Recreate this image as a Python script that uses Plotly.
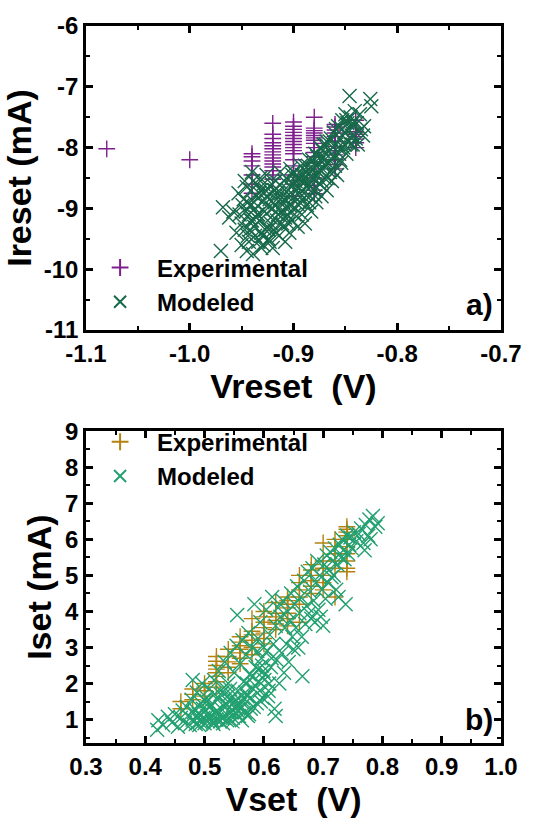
import plotly.graph_objects as go

# ---------------- Data: panel a) (reset) ----------------
exp_reset_v = [-1.08, -1.00,
               -0.94, -0.94, -0.94, -0.94, -0.94, -0.94, -0.94,
               -0.92, -0.92, -0.92, -0.92, -0.92, -0.92, -0.92, -0.92, -0.92, -0.92, -0.92, -0.92, -0.92, -0.92, -0.92,
               -0.90, -0.90, -0.90, -0.90, -0.90, -0.90, -0.90, -0.90, -0.90, -0.90, -0.90, -0.90, -0.90, -0.90, -0.90, -0.90,
               -0.88, -0.88, -0.88, -0.88, -0.88, -0.88, -0.88, -0.88, -0.88, -0.88, -0.88, -0.88, -0.88, -0.88, -0.88, -0.88, -0.88,
               -0.86, -0.86, -0.86, -0.86, -0.86, -0.86, -0.86, -0.86, -0.86, -0.86, -0.86, -0.86,
               -0.84, -0.84, -0.84, -0.84, -0.84, -0.84, -0.84, -0.84]
exp_reset_i = [-8.02, -8.20,
               -8.10, -8.15, -8.22, -8.30, -8.45, -8.60, -8.75,
               -7.60, -7.78, -7.85, -7.92, -7.97, -8.02, -8.07, -8.12, -8.17, -8.22, -8.27, -8.32, -8.38, -8.45, -8.52,
               -7.58, -7.65, -7.70, -7.75, -7.80, -7.85, -7.90, -7.95, -8.00, -8.05, -8.10, -8.20, -8.30, -8.45, -8.60, -8.80,
               -7.50, -7.68, -7.72, -7.76, -7.80, -7.84, -7.88, -7.93, -8.00, -8.08, -8.15, -8.25, -8.35, -8.50, -8.62, -8.70, -8.76,
               -7.62, -7.66, -7.71, -7.76, -7.82, -7.90, -7.98, -8.05, -8.12, -8.20, -8.28, -8.35,
               -7.55, -7.68, -7.74, -7.78, -7.82, -7.86, -7.92, -8.00]

mod_reset_v = [-0.970, -0.968, -0.962, -0.958, -0.955, -0.953, -0.950, -0.950, -0.948, -0.947,
               -0.945, -0.944, -0.943, -0.942, -0.941, -0.940, -0.939, -0.938, -0.937, -0.936,
               -0.935, -0.934, -0.933, -0.932, -0.931, -0.930, -0.929, -0.928, -0.927, -0.926,
               -0.925, -0.924, -0.923, -0.922, -0.921, -0.920, -0.919, -0.918, -0.917, -0.916,
               -0.915, -0.914, -0.913, -0.912, -0.911, -0.910, -0.909, -0.908, -0.907, -0.906,
               -0.905, -0.904, -0.903, -0.902, -0.901, -0.900, -0.899, -0.898, -0.897, -0.896,
               -0.895, -0.894, -0.893, -0.892, -0.891, -0.890, -0.889, -0.888, -0.887, -0.886,
               -0.885, -0.884, -0.883, -0.882, -0.881, -0.880, -0.879, -0.878, -0.877, -0.876,
               -0.875, -0.874, -0.873, -0.872, -0.871, -0.870, -0.869, -0.868, -0.867, -0.866,
               -0.865, -0.864, -0.863, -0.862, -0.861, -0.860, -0.859, -0.858, -0.857, -0.856,
               -0.855, -0.854, -0.853, -0.852, -0.851, -0.850, -0.849, -0.848, -0.847, -0.846,
               -0.845, -0.844, -0.843, -0.842, -0.840, -0.838, -0.835, -0.832, -0.826, -0.825,
               -0.946, -0.942, -0.938, -0.934, -0.930, -0.926, -0.922, -0.918, -0.914, -0.910,
               -0.906, -0.902, -0.898, -0.894, -0.890, -0.886, -0.882, -0.878, -0.874, -0.870,
               -0.944, -0.936, -0.928, -0.920, -0.912, -0.904, -0.896, -0.888, -0.880, -0.872,
               -0.940, -0.932, -0.924, -0.916, -0.908, -0.900, -0.892, -0.884, -0.876, -0.868,
               -0.952, -0.949, -0.947, -0.945, -0.943, -0.941, -0.939, -0.937, -0.935, -0.933,
               -0.931, -0.929, -0.927, -0.925, -0.923, -0.921, -0.919, -0.917, -0.915, -0.913,
               -0.911, -0.909, -0.907, -0.905, -0.903, -0.901, -0.899, -0.897, -0.895, -0.893,
               -0.891, -0.889, -0.887, -0.885, -0.883, -0.881, -0.879, -0.877, -0.875, -0.873,
               -0.871, -0.869, -0.867, -0.865, -0.863, -0.861, -0.859, -0.857, -0.855, -0.853,
               -0.851, -0.849, -0.847, -0.845, -0.843, -0.841, -0.839, -0.836, -0.833]
mod_reset_i = [-9.70, -8.98, -9.15, -9.05, -9.40, -8.75, -9.60, -9.25, -8.85, -8.55,
               -9.70, -9.45, -9.10, -8.95, -8.70, -8.40, -9.75, -9.30, -9.00, -8.80,
               -8.60, -9.55, -9.20, -8.50, -9.40, -8.90, -9.60, -9.05, -8.70, -8.45,
               -9.30, -9.50, -8.85, -9.15, -8.60, -9.65, -9.35, -8.95, -8.55, -9.20,
               -8.75, -9.45, -8.40, -9.05, -8.65, -9.30, -8.85, -9.55, -8.50, -9.10,
               -8.70, -9.40, -8.35, -8.95, -9.20, -8.60, -8.80, -9.00, -8.45, -9.30,
               -8.65, -8.90, -8.30, -9.10, -8.55, -8.75, -9.25, -8.40, -8.95, -8.60,
               -8.20, -8.80, -9.05, -8.50, -8.35, -8.70, -8.10, -8.90, -8.45, -8.25,
               -8.60, -8.00, -8.80, -8.35, -8.15, -8.50, -7.95, -8.70, -8.25, -8.05,
               -8.40, -7.85, -8.55, -8.15, -7.75, -8.30, -7.95, -8.45, -7.65, -8.10,
               -7.85, -8.25, -7.55, -8.00, -7.75, -7.45, -8.10, -7.60, -7.90, -7.15,
               -7.50, -7.80, -7.95, -7.65, -7.85, -7.95, -7.70, -7.65, -7.20, -7.32,
               -9.05, -9.35, -8.90, -9.10, -9.45, -8.80, -9.25, -8.70, -9.00, -8.90,
               -8.80, -8.65, -8.55, -8.75, -8.45, -8.30, -8.20, -8.30, -8.15, -8.20,
               -8.90, -9.15, -8.75, -9.00, -8.75, -8.95, -8.50, -8.55, -8.50, -8.05,
               -9.20, -8.70, -9.35, -8.85, -9.15, -8.40, -8.45, -8.65, -8.40, -7.90,
               -9.10, -8.95, -9.35, -8.65, -9.55, -9.20, -8.55, -9.45, -9.10, -8.75,
               -9.65, -8.60, -9.35, -8.95, -9.55, -9.00, -8.70, -9.40, -9.10, -8.85,
               -9.25, -8.55, -9.00, -9.25, -8.80, -8.45, -9.10, -8.70, -8.95, -8.55,
               -8.85, -8.30, -8.65, -8.90, -8.40, -8.60, -8.80, -8.15, -8.35, -8.55,
               -7.95, -8.30, -8.50, -7.90, -8.20, -8.40, -7.70, -8.00, -8.20, -7.70,
               -7.95, -7.55, -7.70, -7.95, -7.60, -7.40, -7.60, -7.45, -7.80]

# ---------------- Data: panel b) (set) ----------------
exp_set_v = [0.46, 0.46,
             0.48, 0.48, 0.48,
             0.50, 0.50, 0.50, 0.50,
             0.52, 0.52, 0.52, 0.52, 0.52, 0.52, 0.52, 0.52,
             0.54, 0.54, 0.54, 0.54, 0.54,
             0.56, 0.56, 0.56, 0.56, 0.56, 0.56, 0.56,
             0.58, 0.58, 0.58, 0.58, 0.58, 0.58,
             0.60, 0.60, 0.60, 0.60, 0.60, 0.60, 0.60,
             0.62, 0.62, 0.62, 0.62, 0.62, 0.62,
             0.64, 0.64, 0.64, 0.64, 0.64, 0.64, 0.64,
             0.66, 0.66, 0.66, 0.66, 0.66, 0.66,
             0.68, 0.68, 0.68, 0.68, 0.68, 0.68,
             0.70, 0.70, 0.70, 0.70, 0.70, 0.70,
             0.72, 0.72, 0.72, 0.72, 0.72, 0.72,
             0.74, 0.74, 0.74, 0.74, 0.74, 0.74, 0.74, 0.74, 0.74, 0.74]
exp_set_i = [1.50, 1.30,
             1.70, 1.55, 1.85,
             1.90, 1.80, 1.65, 2.00,
             2.75, 2.62, 2.50, 2.40, 2.30, 2.20, 2.05, 1.90,
             2.95, 2.75, 2.60, 2.45, 2.30,
             3.30, 3.15, 3.05, 2.95, 2.85, 2.70, 2.55,
             3.80, 3.45, 3.35, 3.20, 3.00, 2.80,
             4.00, 3.85, 3.70, 3.55, 3.40, 3.25, 3.10,
             4.25, 3.95, 3.85, 3.75, 3.65, 3.50,
             4.40, 4.30, 4.20, 4.10, 3.95, 3.80, 3.60,
             5.00, 4.80, 4.60, 4.40, 4.20, 3.70,
             5.30, 5.15, 5.00, 4.85, 4.70, 4.50,
             5.90, 5.40, 5.20, 5.00, 4.80, 4.60,
             6.00, 5.80, 5.60, 5.40, 5.20, 4.40,
             6.35, 6.28, 6.20, 6.10, 6.00, 5.80, 5.60, 5.40, 5.20, 5.10]

mod_set_v = [0.420, 0.422, 0.430, 0.438, 0.445, 0.450, 0.455, 0.460, 0.463, 0.467,
             0.470, 0.472, 0.475, 0.478, 0.480, 0.480, 0.483, 0.485, 0.487, 0.490,
             0.492, 0.494, 0.496, 0.498, 0.500, 0.502, 0.504, 0.506, 0.508, 0.510,
             0.512, 0.514, 0.516, 0.518, 0.520, 0.522, 0.524, 0.526, 0.528, 0.530,
             0.532, 0.534, 0.536, 0.538, 0.540, 0.542, 0.544, 0.546, 0.548, 0.550,
             0.552, 0.554, 0.555, 0.556, 0.558, 0.560, 0.562, 0.564, 0.566, 0.568,
             0.570, 0.572, 0.574, 0.576, 0.578, 0.580, 0.582, 0.584, 0.586, 0.588,
             0.590, 0.592, 0.594, 0.596, 0.598, 0.600, 0.602, 0.604, 0.606, 0.608,
             0.610, 0.612, 0.614, 0.616, 0.618, 0.620, 0.620, 0.622, 0.624, 0.626,
             0.628, 0.630, 0.632, 0.634, 0.636, 0.638, 0.640, 0.642, 0.644, 0.646,
             0.648, 0.650, 0.652, 0.654, 0.656, 0.658, 0.660, 0.662, 0.664, 0.665,
             0.668, 0.670, 0.672, 0.674, 0.676, 0.678, 0.680, 0.682, 0.684, 0.686,
             0.688, 0.690, 0.692, 0.694, 0.696, 0.698, 0.700, 0.702, 0.704, 0.706,
             0.708, 0.710, 0.712, 0.714, 0.716, 0.718, 0.720, 0.722, 0.724, 0.726,
             0.728, 0.730, 0.732, 0.734, 0.736, 0.738, 0.740, 0.742, 0.744, 0.746,
             0.748, 0.752, 0.756, 0.760, 0.764, 0.768, 0.770, 0.772, 0.776, 0.778,
             0.780, 0.784, 0.788, 0.792,
             0.488, 0.497, 0.505, 0.513, 0.521, 0.529, 0.537, 0.545, 0.553, 0.561,
             0.569, 0.577, 0.585, 0.593, 0.601, 0.609, 0.503, 0.517, 0.533, 0.549,
             0.565, 0.581, 0.597, 0.613, 0.543, 0.571, 0.599, 0.589,
             0.482, 0.491, 0.499, 0.507, 0.515, 0.523, 0.531, 0.539, 0.547, 0.555,
             0.563, 0.573, 0.583, 0.595, 0.607, 0.527, 0.541, 0.559, 0.575, 0.591]
mod_set_i = [0.72, 0.98, 0.85, 1.08, 0.92, 1.15, 0.80, 1.05, 1.25, 0.90,
             1.35, 1.10, 0.85, 1.55, 2.10, 1.00, 1.30, 0.88, 1.75, 1.15,
             0.95, 1.45, 2.00, 1.05, 0.90, 1.25, 1.60, 0.95, 1.85, 1.10,
             1.40, 0.92, 2.10, 1.20, 1.00, 1.55, 2.35, 0.95, 1.30, 1.75,
             1.05, 2.60, 1.45, 0.98, 2.00, 1.20, 2.85, 1.60, 1.05, 2.30,
             1.35, 3.05, 3.90, 1.80, 1.10, 2.55, 1.50, 3.20, 2.05, 1.20,
             2.80, 1.65, 3.40, 2.25, 1.30, 3.00, 1.85, 4.20, 2.45, 1.45,
             3.25, 2.05, 3.70, 2.70, 1.60, 3.00, 2.25, 4.05, 2.90, 1.80,
             3.35, 2.45, 4.40, 3.10, 1.30, 1.10, 3.60, 2.65, 4.10, 2.00,
             3.85, 2.85, 4.30, 2.30, 3.55, 3.10, 4.00, 2.60, 3.75, 4.50,
             3.30, 2.95, 4.20, 3.55, 4.70, 3.00, 3.95, 4.40, 3.30, 2.20,
             4.85, 3.65, 4.15, 5.10, 3.95, 4.55, 3.80, 5.20, 4.30, 3.70,
             4.80, 5.40, 4.05, 5.00, 3.85, 4.60, 3.60, 5.30, 4.35, 5.55,
             4.80, 5.15, 5.65, 4.95, 5.40, 5.00, 5.75, 4.60, 5.30, 4.40,
             5.85, 5.50, 6.00, 5.70, 5.45, 4.20, 6.10, 5.60, 5.85, 6.05,
             5.75, 6.20, 5.95, 6.15, 6.30, 5.90, 5.70, 6.40, 6.10, 6.55,
             6.00, 6.65, 6.35, 6.45,
             1.05, 1.30, 1.10, 0.98, 1.25, 1.05, 1.40, 1.20, 1.55, 1.30,
             1.75, 1.60, 1.95, 1.80, 2.10, 2.00, 1.50, 1.70, 1.90, 1.45,
             1.60, 2.20, 2.50, 2.70, 1.85, 2.00, 2.35, 2.90,
             1.20, 0.85, 1.55, 1.35, 0.88, 1.15, 0.90, 1.65, 0.95, 1.25,
             0.98, 1.10, 1.35, 1.50, 1.65, 1.70, 1.00, 1.40, 1.15, 2.40]

# tick labels (plain hyphen minus, as in the original)
reset_v_ticks = [-1.1, -1.0, -0.9, -0.8, -0.7]
reset_v_labels = ["-1.1", "-1.0", "-0.9", "-0.8", "-0.7"]
reset_i_ticks = [-11, -10, -9, -8, -7, -6]
reset_i_labels = ["-11", "-10", "-9", "-8", "-7", "-6"]

# ---------------- Styles ----------------
PURPLE = "#7d1f8c"
DKGREEN = "#17694a"
GOLD = "#b5820f"
GREEN = "#22a070"
FONT = "Liberation Sans, Arial, sans-serif"

fig = go.Figure()

fig.add_trace(go.Scatter(x=exp_reset_v, y=exp_reset_i, mode="markers", name="Experimental",
                         marker=dict(symbol="cross-thin", size=12, color=PURPLE,
                                     line=dict(color=PURPLE, width=1.4)),
                         xaxis="x", yaxis="y", legend="legend"))
fig.add_trace(go.Scatter(x=mod_reset_v, y=mod_reset_i, mode="markers", name="Modeled",
                         marker=dict(symbol="x-thin", size=14, color=DKGREEN,
                                     line=dict(color=DKGREEN, width=1.4)),
                         xaxis="x", yaxis="y", legend="legend"))
fig.add_trace(go.Scatter(x=exp_set_v, y=exp_set_i, mode="markers", name="Experimental",
                         marker=dict(symbol="cross-thin", size=12, color=GOLD,
                                     line=dict(color=GOLD, width=1.4)),
                         xaxis="x2", yaxis="y2", legend="legend2"))
fig.add_trace(go.Scatter(x=mod_set_v, y=mod_set_i, mode="markers", name="Modeled",
                         marker=dict(symbol="x-thin", size=14, color=GREEN,
                                     line=dict(color=GREEN, width=1.4)),
                         xaxis="x2", yaxis="y2", legend="legend2"))

tickfont = dict(family=FONT, size=24, color="black", weight="bold")
titlefont = dict(family=FONT, size=34, color="black", weight="bold")
legfont = dict(family=FONT, size=24, color="black", weight="bold")

def axis_common(minor_dtick):
    return dict(showline=True, linewidth=2.5, linecolor="black", mirror="allticks",
                ticks="inside", ticklen=7, tickwidth=2.5, tickcolor="black",
                tickfont=tickfont, showgrid=False, zeroline=False,
                minor=dict(ticks="inside", ticklen=4, tickwidth=2, tickcolor="black",
                           dtick=minor_dtick, showgrid=False))

fig.update_layout(
    width=534, height=822,
    margin=dict(l=86, r=32, t=14, b=79),
    paper_bgcolor="white", plot_bgcolor="white",
    showlegend=True,
    xaxis=dict(domain=[0, 1], anchor="y", range=[-1.1, -0.7],
               tickvals=reset_v_ticks, ticktext=reset_v_labels,
               title=dict(text="Vreset  (V)", font=titlefont, standoff=6),
               **axis_common(0.05)),
    yaxis=dict(domain=[0.576, 1], anchor="x", range=[-11, -6],
               tickvals=reset_i_ticks, ticktext=reset_i_labels,
               title=dict(text="Ireset (mA)", font=titlefont, standoff=4),
               **axis_common(0.5)),
    xaxis2=dict(domain=[0, 1], anchor="y2", range=[0.3, 1.0], tick0=0.3, dtick=0.1,
                title=dict(text="Vset  (V)", font=titlefont, standoff=6),
                tickformat=".1f", **axis_common(0.05)),
    yaxis2=dict(domain=[0, 0.4348], anchor="x2", range=[0.35, 9], tick0=1, dtick=1,
                title=dict(text="Iset (mA)", font=titlefont, standoff=4),
                **axis_common(0.5)),
    legend=dict(x=-0.007, y=0.694, xanchor="left", yanchor="top", bgcolor="rgba(0,0,0,0)",
                font=legfont, itemsizing="constant", itemwidth=64, tracegroupgap=0),
    legend2=dict(x=-0.007, y=0.451, xanchor="left", yanchor="top", bgcolor="rgba(0,0,0,0)",
                 font=legfont, itemsizing="constant", itemwidth=64, tracegroupgap=0),
    annotations=[
        dict(text="a)", x=0.985, y=0.085, xref="x domain", yref="y domain",
             xanchor="right", yanchor="middle", showarrow=False,
             font=dict(family=FONT, size=30, color="black", weight="bold")),
        dict(text="b)", x=0.985, y=0.075, xref="x2 domain", yref="y2 domain",
             xanchor="right", yanchor="middle", showarrow=False,
             font=dict(family=FONT, size=30, color="black", weight="bold")),
    ],
)

fig.write_html("out.html")
